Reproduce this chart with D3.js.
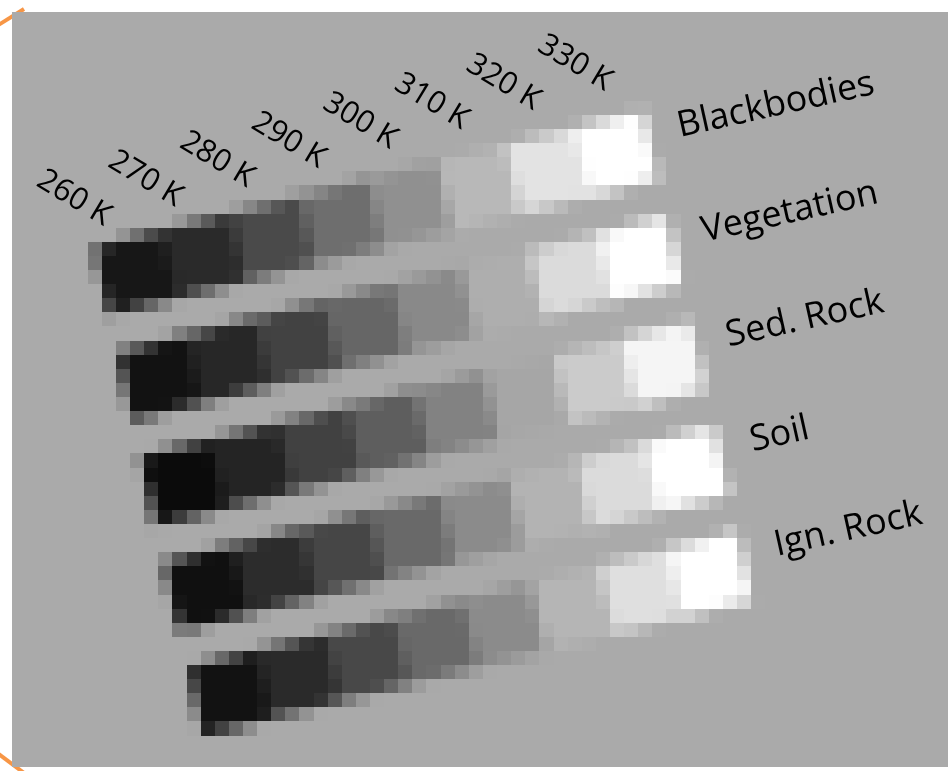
<!DOCTYPE html>
<html>
<head>
<meta charset="utf-8">
<script src="https://cdn.jsdelivr.net/npm/d3@7"></script>
<style>
  html, body { margin: 0; padding: 0; background: #ffffff; overflow: hidden; }
  #stage { position: relative; width: 951px; height: 771px; }
  #stage > svg, #stage > div { position: absolute; left: 0; top: 0; }
  #tiles { position: absolute; image-rendering: pixelated; }
  text { font-family: "Open Sans", Lato, sans-serif; fill: #000; }
</style>
</head>
<body>
<div id="stage"></div>
<script>
// Scene temperatures (columns) and their tick labels
const temperatures = [260, 270, 280, 290, 300, 310, 320, 330];
const tickLabels = ["260 K", "270 K", "280 K", "290 K", "300 K", "310 K", "320 K", "330 K"];

// Surface types (rows)
const materials = ["Blackbodies", "Vegetation", "Sed. Rock", "Soil", "Ign. Rock"];

// Displayed brightness (0-255) of each surface at each temperature
const blackbodies = [23, 42, 74, 110, 144, 184, 227, 255];
const vegetation  = [18, 39, 66, 102, 137, 174, 219, 255];
const sedRock     = [11, 36, 65, 94, 130, 166, 203, 245];
const soil        = [16, 44, 70, 105, 139, 179, 219, 255];
const ignRock     = [18, 42, 72, 105, 139, 181, 223, 255];
const brightness = [blackbodies, vegetation, sedRock, soil, ignRock];

const W = 951, H = 771;
const panel = { x: 12, y: 12, w: 936, h: 755 };
const panelFill = "#aaaaaa";

// Tile layout in the tilted frame
const colStep = 70.8, rowStep = 107.8, tileH = 70;
const frame = { ox: 93.5, oy: 246.8, rowAngle: 13.9, colAngle: 12.6 };

// Coarse raster the tiles are shown at
const cell = 14.12, gridX = 3.2, gridY = 1.5, supersample = 10;

const x = d3.scaleBand().domain(temperatures).range([0, temperatures.length * colStep]);
const y = d3.scaleBand().domain(materials)
  .range([0, (materials.length - 1) * rowStep + tileH])
  .paddingInner((rowStep - tileH) / rowStep)
  .paddingOuter(0);
const grey = d3.scaleLinear().domain([0, 255]).range(["#000000", "#ffffff"]);

const stage = d3.select("#stage");

// Background panel and frame corners
const bg = stage.append("svg").attr("width", W).attr("height", H);
const orange = "#f79646";
bg.append("line").attr("x1", -20).attr("y1", 36.5).attr("x2", 24).attr("y2", 9)
  .attr("stroke", orange).attr("stroke-width", 4);
bg.append("line").attr("x1", -20).attr("y1", 740).attr("x2", 24).attr("y2", 773)
  .attr("stroke", orange).attr("stroke-width", 4);
bg.append("rect").attr("x", panel.x).attr("y", panel.y)
  .attr("width", panel.w).attr("height", panel.h).attr("fill", panelFill);

// Tiles: drawn finely, then averaged down to the coarse raster
const nCols = Math.ceil((W - gridX) / cell) + 1;
const nRows = Math.ceil((H - gridY) / cell) + 1;

const hi = document.createElement("canvas");
hi.width = nCols * supersample;
hi.height = nRows * supersample;
const hctx = hi.getContext("2d");
hctx.fillStyle = panelFill;
hctx.fillRect(0, 0, hi.width, hi.height);

const ra = frame.rowAngle * Math.PI / 180, ca = frame.colAngle * Math.PI / 180;
const k = supersample / cell;
hctx.setTransform(
  Math.cos(ra) * k, -Math.sin(ra) * k,
  Math.sin(ca) * k, Math.cos(ca) * k,
  (frame.ox - gridX) * k, (frame.oy - gridY) * k
);
materials.forEach((m, r) => {
  temperatures.forEach((t, i) => {
    const last = i === temperatures.length - 1;
    hctx.fillStyle = grey(brightness[r][i]);
    // overlap slightly into the next tile so neighbours meet without seams
    hctx.fillRect(x(t), y(m), x.bandwidth() + (last ? 0 : 1), y.bandwidth());
  });
});

const src = hctx.getImageData(0, 0, hi.width, hi.height).data;
const lo = document.createElement("canvas");
lo.width = nCols; lo.height = nRows;
const lctx = lo.getContext("2d");
const out = lctx.createImageData(nCols, nRows);
const n = supersample * supersample;
for (let cy = 0; cy < nRows; cy++) {
  for (let cx = 0; cx < nCols; cx++) {
    let sr = 0, sg = 0, sb = 0;
    for (let yy = 0; yy < supersample; yy++) {
      let p = ((cy * supersample + yy) * hi.width + cx * supersample) * 4;
      for (let xx = 0; xx < supersample; xx++, p += 4) {
        sr += src[p]; sg += src[p + 1]; sb += src[p + 2];
      }
    }
    const q = (cy * nCols + cx) * 4;
    out.data[q] = Math.round(sr / n);
    out.data[q + 1] = Math.round(sg / n);
    out.data[q + 2] = Math.round(sb / n);
    out.data[q + 3] = 255;
  }
}
lctx.putImageData(out, 0, 0);

const clip = stage.append("div")
  .style("left", panel.x + "px").style("top", panel.y + "px")
  .style("width", panel.w + "px").style("height", panel.h + "px")
  .style("overflow", "hidden");
clip.append(() => lo)
  .attr("id", "tiles")
  .style("left", (gridX - panel.x) + "px")
  .style("top", (gridY - panel.y) + "px")
  .style("width", (nCols * cell) + "px")
  .style("height", (nRows * cell) + "px");

// Labels
const fg = stage.append("svg").attr("width", W).attr("height", H);

const tickX = d3.scaleLinear().domain(d3.extent(temperatures)).range([35, 536]);
const tickY = d3.scaleLinear().domain(d3.extent(temperatures)).range([185, 50]);
fg.append("g").selectAll("text").data(temperatures).join("text")
  .attr("transform", t => `translate(${tickX(t)},${tickY(t)}) rotate(31)`)
  .attr("font-size", 31)
  .text((t, i) => tickLabels[i]);

const rowLabel = d3.scalePoint().domain(materials).range([0, 1]);
const rowX = d3.scaleLinear().domain([0, 1]).range([680, 777]);
const rowY = d3.scaleLinear().domain([0, 1]).range([137, 556]);
fg.append("g").selectAll("text").data(materials).join("text")
  .attr("transform", m => `translate(${rowX(rowLabel(m))},${rowY(rowLabel(m))}) rotate(-12.5)`)
  .attr("font-size", 36)
  .text(m => m);
</script>
</body>
</html>
